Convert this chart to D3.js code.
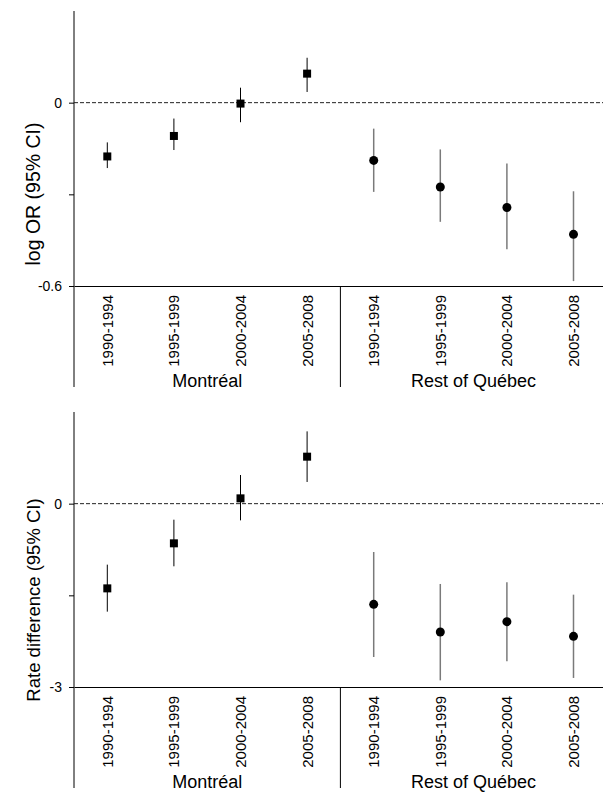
<!DOCTYPE html>
<html>
<head>
<meta charset="utf-8">
<script src="https://cdn.jsdelivr.net/npm/d3@7"></script>
<style>
  body { margin: 0; background: #fff; }
  text { font-family: "Liberation Sans", Arial, sans-serif; fill: #000; }
</style>
</head>
<body>
<div id="chart"></div>
<script>
// Data
var periods = ["1990-1994", "1995-1999", "2000-2004", "2005-2008"];
var regions = ["Montréal", "Rest of Québec"];

// log OR (95% CI)
var orMontreal = [-0.176, -0.109, -0.003, 0.095];
var orMontrealLo = [-0.214, -0.155, -0.064, 0.035];
var orMontrealHi = [-0.130, -0.052, 0.049, 0.147];
var orRest = [-0.189, -0.276, -0.343, -0.431];
var orRestLo = [-0.292, -0.390, -0.480, -0.584];
var orRestHi = [-0.085, -0.153, -0.199, -0.290];

// Rate difference (95% CI)
var rdMontreal = [-1.386, -0.649, 0.087, 0.769];
var rdMontrealLo = [-1.767, -1.025, -0.273, 0.355];
var rdMontrealHi = [-0.998, -0.262, 0.469, 1.183];
var rdRest = [-1.647, -2.100, -1.931, -2.171];
var rdRestLo = [-2.509, -2.891, -2.580, -2.852];
var rdRestHi = [-0.791, -1.314, -1.287, -1.489];

var orTicks = [0, -0.3, -0.6];
var orTickLabels = ["0", "", "-0.6"];
var rdTicks = [0, -1.5, -3];
var rdTickLabels = ["0", "", "-3"];

var svgWidth = 603;
var svgHeight = 792;

var svg = d3.select("#chart")
    .append("svg")
    .attr("width", svgWidth)
    .attr("height", svgHeight);

var left = 74;
var plotHeight = 275;

// one band per region/period pair
var keys = [];
regions.forEach(function (r) {
    periods.forEach(function (p) { keys.push(r + "|" + p); });
});

var xScale = d3.scaleBand()
    .domain(keys)
    .range([left, left + 8 * 66.6])
    .padding(0);

function rows(est, lo, hi, region) {
    return periods.map(function (p, i) {
        return { key: region + "|" + p, est: est[i], lo: lo[i], hi: hi[i] };
    });
}

function drawPanel(top, domain, ticks, tickLabels, title, titleY, titleSize, montreal, rest) {
    var g = svg.append("g").attr("transform", "translate(0," + top + ")");

    var yScale = d3.scaleLinear()
        .domain(domain)
        .range([plotHeight, 0]);

    // y axis line, running down through the category labels
    g.append("line")
        .attr("x1", left).attr("x2", left)
        .attr("y1", 0).attr("y2", plotHeight + 101)
        .attr("stroke", "#000");

    var leftAxis = d3.axisLeft(yScale)
        .tickValues(ticks)
        .tickSize(5)
        .tickSizeOuter(0)
        .tickPadding(7)
        .tickFormat(function (d, i) { return tickLabels[i]; });

    var yAxis = g.append("g")
        .attr("transform", "translate(" + left + ",0)")
        .call(leftAxis);
    yAxis.select(".domain").remove();
    yAxis.selectAll("text").style("font-size", "14px").attr("font-family", null);

    // bottom axis with rotated period labels
    var bottomAxis = d3.axisBottom(xScale)
        .tickSize(0)
        .tickSizeOuter(0)
        .tickFormat(function (d) { return d.split("|")[1]; });

    var xAxis = g.append("g")
        .attr("transform", "translate(0," + plotHeight + ")")
        .call(bottomAxis);
    xAxis.select(".domain").attr("stroke", "#000");
    xAxis.selectAll("text")
        .attr("font-family", null)
        .style("font-size", "15px")
        .attr("transform", "rotate(-90)")
        .attr("text-anchor", "end")
        .attr("x", -9)
        .attr("y", 0)
        .attr("dy", "0.36em");

    // divider between the two regions
    var divX = xScale(keys[4]);
    g.append("line")
        .attr("x1", divX).attr("x2", divX)
        .attr("y1", plotHeight).attr("y2", plotHeight + 101)
        .attr("stroke", "#000");

    // region labels
    g.selectAll(null)
        .data(regions)
        .enter()
        .append("text")
        .attr("x", function (d, i) { return (xScale(keys[i * 4]) + xScale(keys[i * 4 + 3]) + xScale.bandwidth()) / 2; })
        .attr("y", plotHeight + 101)
        .attr("text-anchor", "middle")
        .style("font-size", "18px")
        .text(function (d) { return d; });

    // zero reference line
    g.append("line")
        .attr("x1", left).attr("x2", svgWidth)
        .attr("y1", yScale(0)).attr("y2", yScale(0))
        .attr("stroke", "#222")
        .attr("stroke-dasharray", "4,2");

    var half = xScale.bandwidth() / 2;

    // confidence intervals
    g.selectAll(null)
        .data(montreal)
        .enter()
        .append("line")
        .attr("x1", function (d) { return xScale(d.key) + half; })
        .attr("x2", function (d) { return xScale(d.key) + half; })
        .attr("y1", function (d) { return yScale(d.lo); })
        .attr("y2", function (d) { return yScale(d.hi); })
        .attr("stroke", "#000")
        .attr("stroke-width", 1);

    g.selectAll(null)
        .data(rest)
        .enter()
        .append("line")
        .attr("x1", function (d) { return xScale(d.key) + half; })
        .attr("x2", function (d) { return xScale(d.key) + half; })
        .attr("y1", function (d) { return yScale(d.lo); })
        .attr("y2", function (d) { return yScale(d.hi); })
        .attr("stroke", "#7a7a7a")
        .attr("stroke-width", 1.5);

    // point estimates
    g.selectAll(null)
        .data(montreal)
        .enter()
        .append("rect")
        .attr("x", function (d) { return xScale(d.key) + half - 4; })
        .attr("y", function (d) { return yScale(d.est) - 4; })
        .attr("width", 8)
        .attr("height", 8)
        .attr("fill", "#000");

    g.selectAll(null)
        .data(rest)
        .enter()
        .append("circle")
        .attr("cx", function (d) { return xScale(d.key) + half; })
        .attr("cy", function (d) { return yScale(d.est); })
        .attr("r", 4.5)
        .attr("fill", "#000");

    // y axis title
    g.append("text")
        .attr("transform", "translate(40," + titleY + ") rotate(-90)")
        .attr("text-anchor", "middle")
        .style("font-size", titleSize)
        .text(title);
}

drawPanel(11, [-0.6, 0.3], orTicks, orTickLabels, "log OR (95% CI)", 183, "19.5px",
    rows(orMontreal, orMontrealLo, orMontrealHi, regions[0]),
    rows(orRest, orRestLo, orRestHi, regions[1]));

drawPanel(412, [-3, 1.5], rdTicks, rdTickLabels, "Rate difference (95% CI)", 188, "18.5px",
    rows(rdMontreal, rdMontrealLo, rdMontrealHi, regions[0]),
    rows(rdRest, rdRestLo, rdRestHi, regions[1]));
</script>
</body>
</html>
